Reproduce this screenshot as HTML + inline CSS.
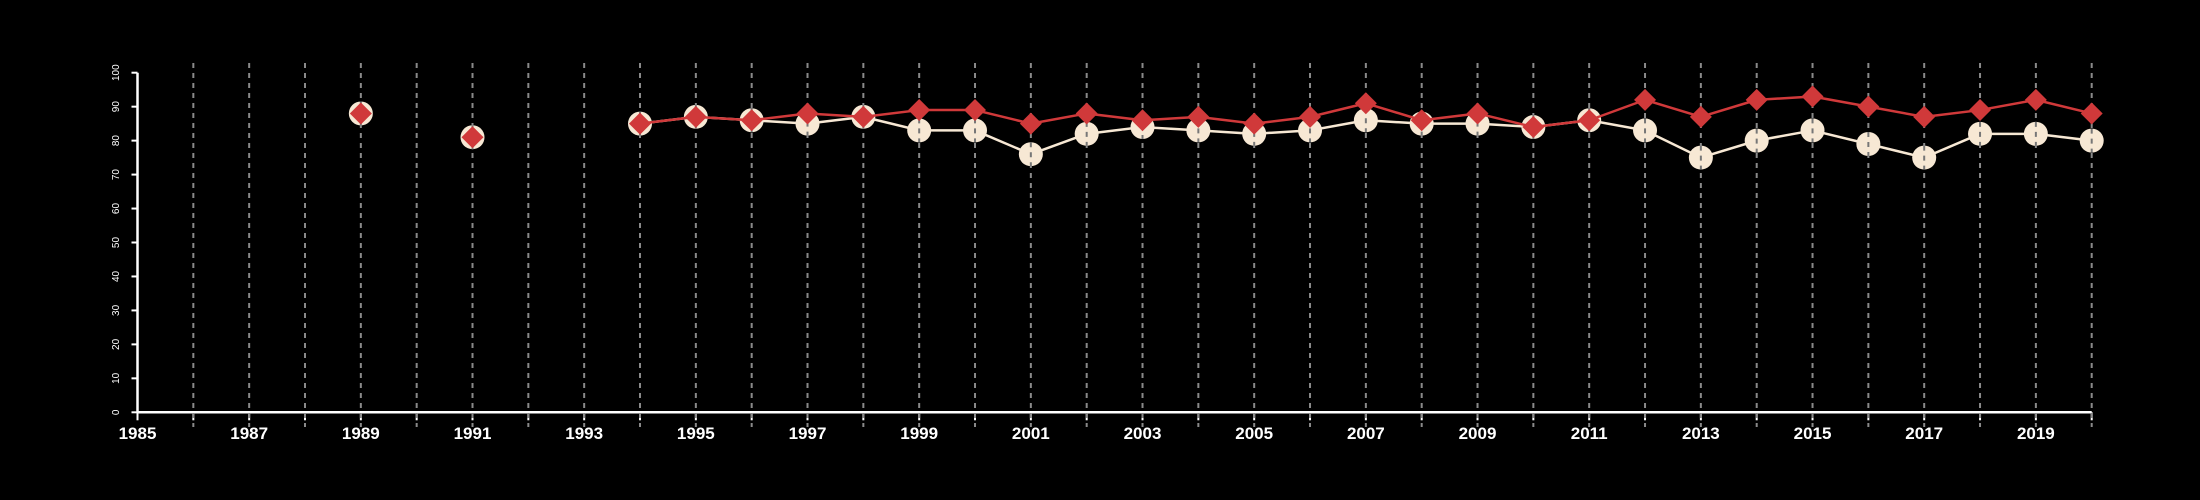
<!DOCTYPE html>
<html><head><meta charset="utf-8"><style>
html,body{margin:0;padding:0;background:#000;}
svg{display:block;font-family:"Liberation Sans",sans-serif;}
</style></head><body>
<svg id="chart" width="2200" height="500" viewBox="0 0 2200 500">
<rect width="2200" height="500" fill="#000"/>
<g id="axes"></g><g id="grid"></g><g id="series"></g>
</svg>
<script>
const years = [1989,1991,1994,1995,1996,1997,1998,1999,2000,2001,2002,2003,2004,2005,2006,2007,2008,2009,2010,2011,2012,2013,2014,2015,2016,2017,2018,2019,2020];
const redValues = [88,81,85,87,86,88,87,89,89,85,88,86,87,85,87,91,86,88,84,86,92,87,92,93,90,87,89,92,88];
const creamValues = [88,81,85,87,86,85,87,83,83,76,82,84,83,82,83,86,85,85,84,86,83,75,80,83,79,75,82,82,80];
const yTicks = [0,10,20,30,40,50,60,70,80,90,100];
const xLabels = [1985,1987,1989,1991,1993,1995,1997,1999,2001,2003,2005,2007,2009,2011,2013,2015,2017,2019];
const xMin=1985,xMax=2020,yMin=0,yMax=100;
const X0=137.5,X1=2091.7,Y0=412.3,Y1=72.7;
const sx=v=>X0+(v-xMin)/(xMax-xMin)*(X1-X0);
const sy=v=>Y0-(v-yMin)/(yMax-yMin)*(Y0-Y1);
const NS="http://www.w3.org/2000/svg";
function mk(tag,attrs,parent){const e=document.createElementNS(NS,tag);for(const k in attrs)e.setAttribute(k,attrs[k]);parent.appendChild(e);return e;}
const axes=document.getElementById('axes'),grid=document.getElementById('grid'),series=document.getElementById('series');
// axes
let a=mk('line',{x1:X0,y1:Y0,x2:X1,y2:Y0,stroke:'#fff','stroke-width':2.5},axes);


a=mk('line',{x1:X0,y1:Y0,x2:X0,y2:Y1,stroke:'#fff','stroke-width':2.5},axes);


yTicks.forEach(t=>{
  const y=sy(t);
  const l=mk('line',{x1:X0-6,y1:y,x2:X0,y2:y,stroke:'#fff','stroke-width':2},axes);
  
  
  const tx=mk('text',{x:0,y:0,fill:'#fff','font-size':10,'text-anchor':'middle',transform:`translate(119,${y}) rotate(-90)`},axes);
  tx.textContent=t;
  
  
});
for(let yr=xMin;yr<=xMax;yr++){
  const x=sx(yr);
  const l=mk('line',{x1:x,y1:Y0,x2:x,y2:Y0+8,stroke:'#fff','stroke-width':2},axes);
  
  
  if(yr>xMin){
    const g=mk('line',{x1:x,y1:63,x2:x,y2:427,stroke:'#8a8a8a','stroke-width':2,'stroke-dasharray':'5,5'},grid);
    
    
  }
}
xLabels.forEach(t=>{
  const tx=mk('text',{x:sx(t),y:439,fill:'#fff','font-size':17,'font-weight':'bold','text-anchor':'middle'},axes);
  tx.textContent=t;
  
  
});
// lines (connect consecutive years only)
function drawLine(vals,color,name){
  for(let i=1;i<years.length;i++){
    if(years[i]-years[i-1]===1){
      const l=mk('line',{x1:sx(years[i-1]),y1:sy(vals[i-1]),x2:sx(years[i]),y2:sy(vals[i]),stroke:color,'stroke-width':2.5},series);
      
      
    }
  }
}
drawLine(creamValues,'#f7e8d4','cream-line-segment');
years.forEach((yr,i)=>{
  const c=mk('circle',{cx:sx(yr),cy:sy(creamValues[i]),r:12,fill:'#f7e8d4'},series);
  
  
});
// dashes over circles
years.forEach((yr,i)=>{
  const x=sx(yr),y=sy(creamValues[i]);
  const d=mk('line',{x1:x,y1:y-12,x2:x,y2:y+12,stroke:'#777','stroke-width':2,'stroke-dasharray':'5,5'},series);
  
  
});
drawLine(redValues,'#d0393a','red-line-segment');
years.forEach((yr,i)=>{
  const x=sx(yr),y=sy(redValues[i]),h=11;
  const p=mk('polygon',{points:`${x},${y-h} ${x+h},${y} ${x},${y+h} ${x-h},${y}`,fill:'#d0393a'},series);
  
  
});
</script>
</body></html>
